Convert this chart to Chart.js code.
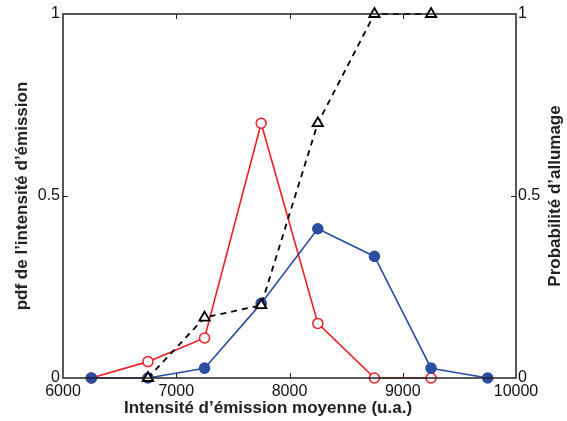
<!DOCTYPE html>
<html>
<head>
<meta charset="utf-8">
<script src="https://cdn.jsdelivr.net/npm/chart.js@4"></script>
<style>
  body { margin: 0; background: #fff; }
  #wrap { width: 567px; height: 421px; }
</style>
</head>
<body>
<div id="wrap"><canvas id="myChart" width="567" height="421"></canvas></div>
<script>
// ── Data ──────────────────────────────────────────────────────────────────────
var intensites  = [6250, 6750, 7250, 7750, 8250, 8750, 9250, 9750];
var pdfBleu     = [0, 0, 0.027, 0.205, 0.41, 0.334, 0.027, 0];
var pdfRouge    = [0, 0.045, 0.11, 0.70, 0.15, 0, 0];
var probaAllum  = [null, 0, 0.166, 0.20, 0.70, 1, 1];
var xTicks      = [6000, 7000, 8000, 9000, 10000];
var yTicks      = [0, 0.5, 1];

var titreX      = 'Intensité d\u2019émission moyenne (u.a.)';
var titreY      = 'pdf de l\u2019intensité d\u2019émission';
var titreY2     = 'Probabilité d\u2019allumage';

var BLEU  = '#2c4ea1';
var ROUGE = '#ee1d24';
var FONT  = "'Liberation Sans', Arial, sans-serif";

function toPoints(xs, ys) {
  var pts = [];
  for (var i = 0; i < ys.length; i++) {
    if (ys[i] !== null) pts.push({ x: xs[i], y: ys[i] });
  }
  return pts;
}
function plainLabel(v) { return String(v); }
function fixedTicks(list) {
  return function (s) { s.ticks = list.map(function (v) { return { value: v }; }); };
}

// ── Frame, inward ticks and axis titles ──────────────────────────────────────
var boxPlugin = {
  id: 'box',
  afterDraw: function (chart) {
    var ctx = chart.ctx, a = chart.chartArea;
    var sx = chart.scales.x, sy = chart.scales.y;
    var midY = (a.top + a.bottom) / 2;
    ctx.save();
    ctx.strokeStyle = '#222';
    ctx.lineWidth = 1.5;
    ctx.strokeRect(a.left, a.top, a.right - a.left, a.bottom - a.top);
    ctx.lineWidth = 1;
    ctx.beginPath();
    for (var i = 1; i < xTicks.length - 1; i++) {
      var px = Math.round(sx.getPixelForValue(xTicks[i])) + 0.5;
      ctx.moveTo(px, a.bottom); ctx.lineTo(px, a.bottom - 5);
      ctx.moveTo(px, a.top);    ctx.lineTo(px, a.top + 5);
    }
    for (var j = 1; j < yTicks.length - 1; j++) {
      var py = Math.round(sy.getPixelForValue(yTicks[j])) + 0.5;
      ctx.moveTo(a.left, py);  ctx.lineTo(a.left + 5, py);
      ctx.moveTo(a.right, py); ctx.lineTo(a.right - 5, py);
    }
    ctx.stroke();

    // titles
    ctx.fillStyle = '#222';
    ctx.font = 'bold 17px ' + FONT;
    ctx.textAlign = 'center';
    ctx.textBaseline = 'middle';
    ctx.fillText(titreX, 268, 408);
    ctx.save();
    ctx.translate(22, midY);
    ctx.rotate(-Math.PI / 2);
    ctx.fillText(titreY, 0, 0);
    ctx.restore();
    ctx.save();
    ctx.translate(555, midY);
    ctx.rotate(-Math.PI / 2);
    ctx.fillText(titreY2, 0, 0);
    ctx.restore();
    ctx.restore();
  }
};

var tickFont = { family: FONT, size: 16 };

var ctx = document.getElementById('myChart').getContext('2d');
new Chart(ctx, {
  type: 'line',
  data: {
    datasets: [
      {
        data: toPoints(intensites, probaAllum),
        yAxisID: 'y2',
        borderColor: '#000',
        borderWidth: 1.8,
        borderDash: [6, 5],
        pointStyle: 'triangle',
        pointRadius: 6,
        pointBorderWidth: 1.8,
        pointBackgroundColor: '#fff',
        pointBorderColor: '#000',
        clip: false,
        order: 0
      },
      {
        data: toPoints(intensites, pdfBleu),
        yAxisID: 'y',
        borderColor: BLEU,
        borderWidth: 1.6,
        pointRadius: 5,
        pointBackgroundColor: BLEU,
        pointBorderColor: BLEU,
        clip: false,
        order: 1
      },
      {
        data: toPoints(intensites, pdfRouge),
        yAxisID: 'y',
        borderColor: ROUGE,
        borderWidth: 1.6,
        pointRadius: 5,
        pointBorderWidth: 1.5,
        pointBackgroundColor: '#fff',
        pointBorderColor: ROUGE,
        clip: false,
        order: 2
      }
    ]
  },
  options: {
    responsive: false,
    animation: false,
    layout: { padding: { top: 14, left: 0, right: 0, bottom: 0 } },
    plugins: { legend: { display: false }, tooltip: { enabled: false } },
    scales: {
      x: {
        type: 'linear', min: 6000, max: 10000,
        afterBuildTicks: fixedTicks(xTicks),
        afterFit: function (s) { s.height = 43; },
        grid: { display: false, drawTicks: false },
        border: { display: false },
        ticks: { font: tickFont, color: '#111', padding: 4, maxRotation: 0, callback: plainLabel }
      },
      y: {
        position: 'left', min: 0, max: 1,
        afterBuildTicks: fixedTicks(yTicks),
        afterFit: function (s) { s.width = 63; },
        grid: { display: false, drawTicks: false },
        border: { display: false },
        ticks: { font: tickFont, color: '#111', padding: 3, callback: plainLabel }
      },
      y2: {
        position: 'right', min: 0, max: 1,
        afterBuildTicks: fixedTicks(yTicks),
        afterFit: function (s) { s.width = 51; },
        grid: { display: false, drawTicks: false },
        border: { display: false },
        ticks: { font: tickFont, color: '#111', padding: 2, callback: plainLabel }
      }
    }
  },
  plugins: [boxPlugin]
});
</script>
</body>
</html>
